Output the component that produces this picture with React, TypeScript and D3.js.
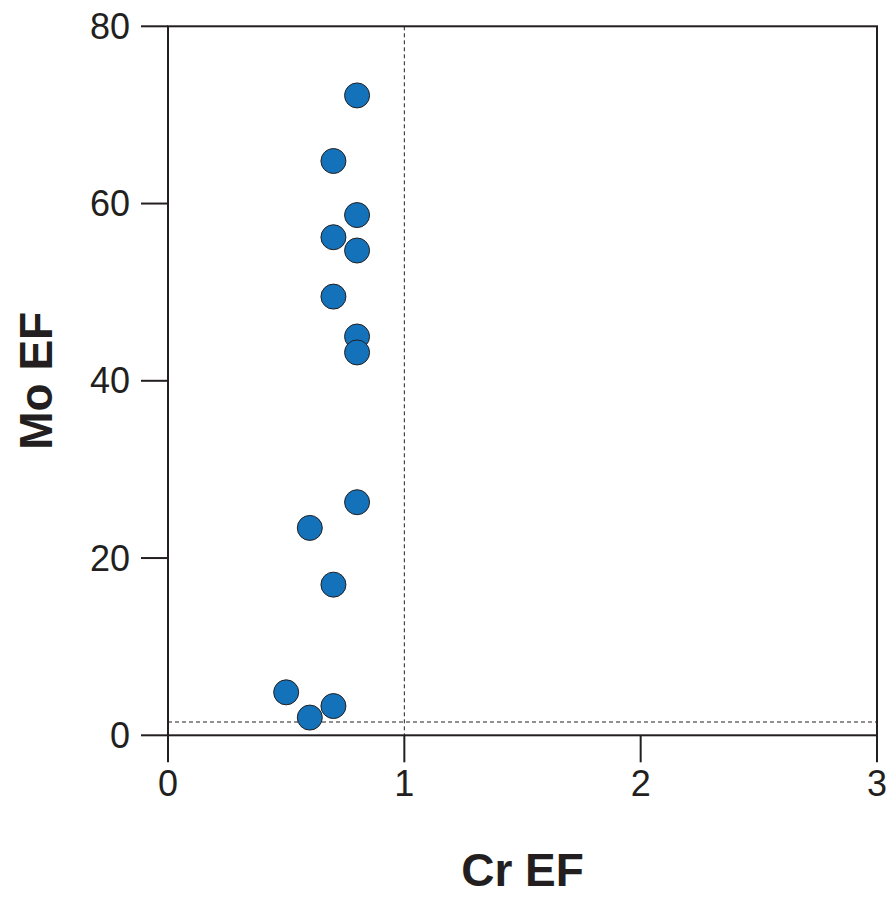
import React from "react";
import * as d3 from "d3";

const crEF = [0.8, 0.7, 0.8, 0.7, 0.8, 0.7, 0.8, 0.8, 0.8, 0.6, 0.7, 0.5, 0.6, 0.7];
const moEF = [72.2, 64.8, 58.7, 56.2, 54.7, 49.5, 45.0, 43.2, 26.3, 23.4, 17.0, 4.85, 2.0, 3.3];
const xTicks = [0, 1, 2, 3];
const yTicks = [0, 20, 40, 60, 80];
const refX = 1;
const refY = 1.5;

const W = 892;
const H = 899;
const L = 168, R = 877, T = 26.3, B = 735.3;
const ink = "#231f20";
const font = "'Liberation Sans', Arial, Helvetica, sans-serif";

export default function App() {
  const x = d3.scaleLinear().domain([0, 3]).range([L, R]);
  const y = d3.scaleLinear().domain([0, 80]).range([B, T]);
  const tickLen = 27;
  return (
    <svg width={W} height={H} style={{ position: "absolute", left: 0, top: 0, background: "#fff" }}>
      {/* reference dashed lines */}
      <line x1={x(refX)} x2={x(refX)} y1={T} y2={B} stroke={ink} strokeWidth={1} strokeDasharray="4,3" />
      <line x1={L} x2={R} y1={y(refY)} y2={y(refY)} stroke={ink} strokeWidth={1} strokeDasharray="4,3" />
      {/* frame */}
      <rect x={L} y={T} width={R - L} height={B - T} fill="none" stroke={ink} strokeWidth={2} />
      {xTicks.map((t) => (
        <g key={"x" + t}>
          <line x1={x(t)} x2={x(t)} y1={B} y2={B + tickLen} stroke={ink} strokeWidth={2} />
          <text x={x(t)} y={796} textAnchor="middle" fontSize={36} fontFamily={font} fill={ink}>
            {t}
          </text>
        </g>
      ))}
      {yTicks.map((t) => (
        <g key={"y" + t}>
          <line x1={L - tickLen} x2={L} y1={y(t)} y2={y(t)} stroke={ink} strokeWidth={2} />
          <text x={130} y={y(t) + 12.5} textAnchor="end" fontSize={36} fontFamily={font} fill={ink}>
            {t}
          </text>
        </g>
      ))}
      {crEF.map((cx, i) => (
        <circle key={i} cx={x(cx)} cy={y(moEF[i])} r={12.5} fill="#1372b9" stroke={ink} strokeWidth={1} />
      ))}
      <text x={(L + R) / 2} y={886} textAnchor="middle" fontSize={46} fontWeight="bold" fontFamily={font} fill={ink}>
        Cr EF
      </text>
      <text
        transform={`translate(52, ${(T + B) / 2}) rotate(-90)`}
        textAnchor="middle"
        fontSize={46}
        fontWeight="bold"
        fontFamily={font}
        fill={ink}
      >
        Mo EF
      </text>
    </svg>
  );
}
